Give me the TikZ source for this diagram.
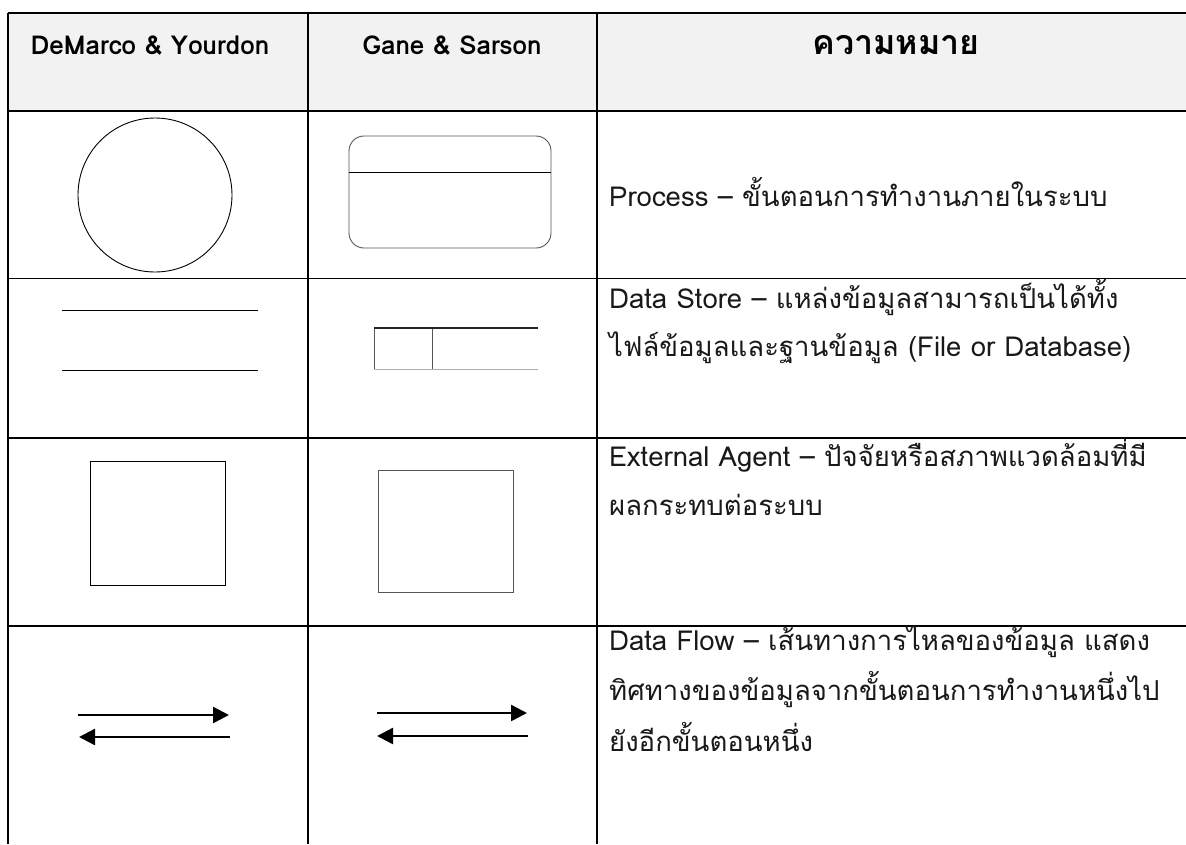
\documentclass[tikz,border=0pt]{standalone}
\usepackage{fontspec}
\newfontfamily\thaifont[Script=Thai]{Loma}
\usetikzlibrary{arrows.meta}
\definecolor{headfill}{HTML}{F2F2F2}
\definecolor{shapegray}{HTML}{555555}
\definecolor{lightline}{HTML}{B0B0B0}
\begin{document}
\begin{tikzpicture}[x=1pt,y=-1pt,
  grid/.style={line width=1.7pt,black},
  bodytxt/.style={font=\thaifont\fontsize{27.5}{33}\selectfont, anchor=base west, inner sep=0pt, text=black!90},
  headtxt/.style={font=\thaifont\bfseries\fontsize{26}{32}\selectfont, anchor=base, inner sep=0pt},
  headthai/.style={font=\thaifont\bfseries\fontsize{34}{40}\selectfont, anchor=base, inner sep=0pt},
  shp/.style={line width=0.9pt,black},
  flow/.style={line width=2.4pt,-{Triangle[length=16pt,width=16pt]}}]
\useasboundingbox (0,0) rectangle (1186,844);
% header fill
\fill[headfill] (8,13) rectangle (1186,111);
% grid
\draw[grid] (8,13) -- (1186,13);
\draw[grid] (8,111) -- (1186,111);
\draw[grid] (8,278.5) -- (1186,278.5);
\draw[grid] (8,438) -- (1186,438);
\draw[grid] (8,626) -- (1186,626);
\draw[grid] (8,13) -- (8,844);
\draw[grid] (308,13) -- (308,844);
\draw[grid] (597,13) -- (597,844);
% header texts
\node[headtxt] (h1) at (150,54) {DeMarco \& Yourdon};
\node[headtxt] (h2) at (452,54) {Gane \& Sarson};
\node[headthai] (h3) at (896,54) {ความหมาย};
% row 1: process
\node[shp,draw,circle,minimum size=154pt,inner sep=0pt] (dmproc) at (155,195) {};
\node[draw=shapegray,line width=0.9pt,rounded corners=15pt,minimum width=202pt,minimum height=112pt,inner sep=0pt] (gsproc) at (450,192) {};
\draw[shp] (gsproc.west |- 0,172) -- (gsproc.east |- 0,172);
\node[bodytxt] (t1) at (609,206) {Process – ขั้นตอนการทำงานภายในระบบ};
% row 2: data store
\coordinate (dsa1) at (62,310); \coordinate (dsa2) at (258,310);
\coordinate (dsb1) at (62,370); \coordinate (dsb2) at (258,370);
\draw[shp] (dsa1) -- (dsa2);
\draw[shp] (dsb1) -- (dsb2);
\coordinate (gs1) at (374,328); \coordinate (gs2) at (538,328);
\coordinate (gs3) at (374,369); \coordinate (gs4) at (538,369);
\coordinate (gsd1) at (432,328); \coordinate (gsd2) at (432,369);
\draw[line width=0.9pt,shapegray] (gs1) -- (gs3);
\draw[line width=0.9pt,shapegray] (gsd1) -- (gsd2);
\draw[line width=0.9pt,lightline] (gs3) -- (gs4);
\draw[line width=2pt,black!85] (gs1) -- (gs2);
\node[bodytxt] (t2a) at (609,308) {Data Store – แหล่งข้อมูลสามารถเป็นได้ทั้ง};
\node[bodytxt] (t2b) at (609,356) {ไฟล์ข้อมูลและฐานข้อมูล (File or Database)};
% row 3: external agent
\node[shp,draw,minimum width=135pt,minimum height=124pt,inner sep=0pt] (dmext) at (157.5,523) {};
\node[draw=shapegray,line width=0.9pt,minimum width=135pt,minimum height=122pt,inner sep=0pt] (gsext) at (445.5,531) {};
\node[bodytxt] (t3a) at (609,466) {External Agent – ปัจจัยหรือสภาพแวดล้อมที่มี};
\node[bodytxt] (t3b) at (609,515) {ผลกระทบต่อระบบ};
% row 4: data flow
\coordinate (fa1) at (78,715); \coordinate (fa2) at (229,715);
\coordinate (fb1) at (230,737); \coordinate (fb2) at (79,737);
\draw[flow] (fa1) -- (fa2);
\draw[flow] (fb1) -- (fb2);
\coordinate (ga1) at (377,713); \coordinate (ga2) at (527,713);
\coordinate (gb1) at (528,736); \coordinate (gb2) at (377,736);
\draw[flow] (ga1) -- (ga2);
\draw[flow] (gb1) -- (gb2);
\node[bodytxt] (t4a) at (609,650) {Data Flow – เส้นทางการไหลของข้อมูล แสดง};
\node[bodytxt] (t4b) at (609,700) {ทิศทางของข้อมูลจากขั้นตอนการทำงานหนึ่งไป};
\node[bodytxt] (t4c) at (609,751) {ยังอีกขั้นตอนหนึ่ง};
\end{tikzpicture}
\end{document}
